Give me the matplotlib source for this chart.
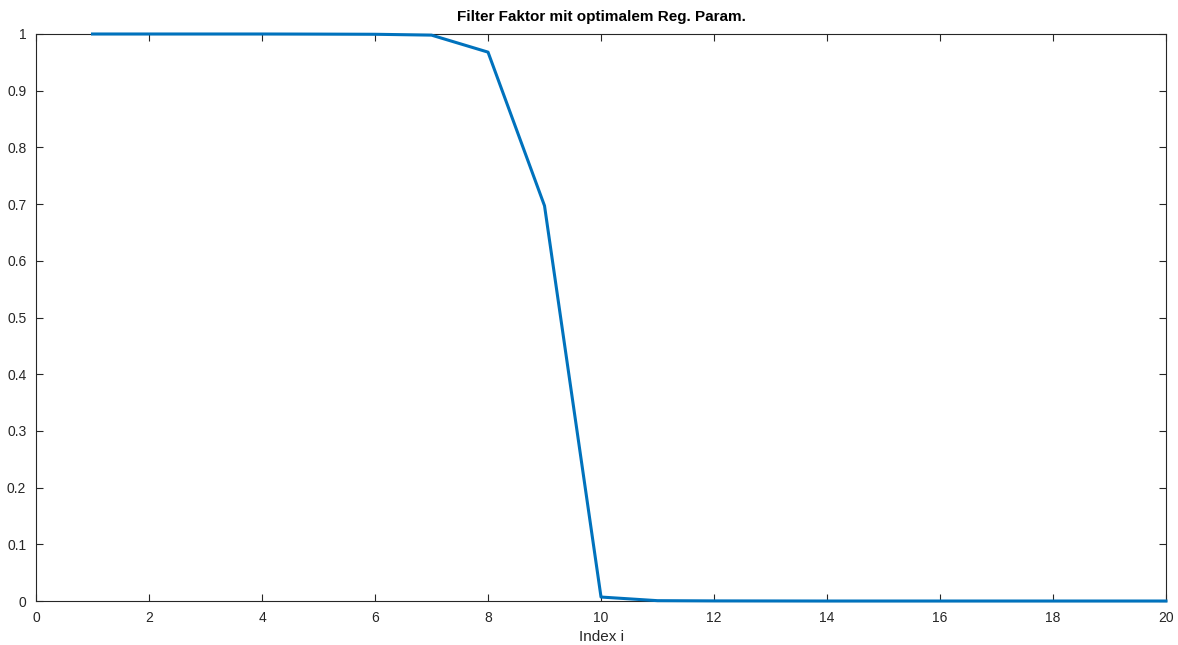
import numpy as np
from matplotlib import pyplot as plt

plt.rcParams['font.family'] = ['Liberation Sans', 'DejaVu Sans']

# Filterfaktoren pro Index
index = np.arange(1, 21)
faktor = [1.0, 1.0, 1.0, 1.0, 0.9998, 0.9995, 0.998, 0.968, 0.697, 0.007,
          0.0006, 0.0002, 0.0001, 0.0, 0.0, 0.0, 0.0, 0.0, 0.0, 0.0]

xticks = np.arange(0, 21, 2)
yticks = np.round(np.arange(0, 1.01, 0.1), 1)
ylabels = ['0'] + [f'{v:g}' for v in yticks[1:-1]] + ['1']

fig = plt.figure(figsize=(11.78, 6.45), dpi=100)
ax = fig.add_axes([0.0306, 0.0682, 0.9592, 0.8791])

ax.plot(index, faktor, color='#0072BD', linewidth=2.2, clip_on=False,
        zorder=5)

ax.set_xlim(0, 20)
ax.set_ylim(0, 1)
ax.set_xticks(xticks)
ax.set_yticks(yticks)
ax.set_yticklabels(ylabels)
ax.tick_params(direction='in', length=5, width=0.8, colors='#262626',
               labelsize=10, top=True, right=True, pad=7)
for s in ax.spines.values():
    s.set_color('#262626')
    s.set_linewidth(0.8)

ax.set_xlabel('Index i', fontsize=11, color='#262626', labelpad=4)
ax.set_title('Filter Faktor mit optimalem Reg. Param.', fontsize=11,
             fontweight='bold', color='black', pad=9)

plt.savefig('out.png', dpi=100)
